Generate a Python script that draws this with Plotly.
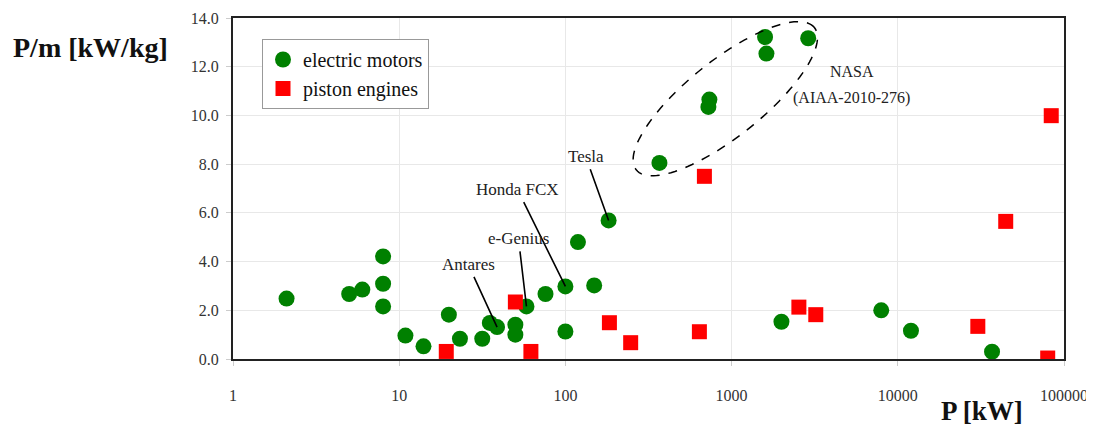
import math
import plotly.graph_objects as go

# ---------------- data ----------------
em_power = [2.1, 5.0, 6.0, 8.0, 8.0, 8.0, 10.9, 14.0, 19.9, 23.2, 31.6, 35.1, 38.8, 50.0, 50.0,
            58.3, 75.9, 100.0, 100.0, 119.0, 149.0, 182.0, 368.0, 735.0, 725.0, 1590.0, 1620.0,
            2890.0, 1995.0, 7950.0, 12000.0, 36900.0]
em_ratio = [2.48, 2.67, 2.85, 4.21, 3.09, 2.16, 0.96, 0.52, 1.82, 0.83, 0.83, 1.48, 1.31, 1.41, 1.00,
            2.16, 2.67, 2.98, 1.13, 4.80, 3.02, 5.69, 8.05, 10.65, 10.35, 13.22, 12.54,
            13.17, 1.53, 2.00, 1.16, 0.30]

pe_power = [50.0, 19.2, 62.0, 184.0, 247.0, 686.0, 640.0, 2540.0, 3210.0, 30300.0, 44600.0, 83800.0, 79800.0]
pe_ratio = [2.34, 0.31, 0.31, 1.49, 0.67, 7.50, 1.12, 2.13, 1.82, 1.34, 5.65, 9.99, 0.04]

x_ticks = [1, 10, 100, 1000, 10000, 100000]
x_ticktext = ["1", "10", "100", "1000", "10000", "100000"]
y_ticks = [0, 2, 4, 6, 8, 10, 12, 14]

# labelled points: (label, power, ratio, text offset x px, text offset y px)
labels = [
    ("Tesla", 182.0, 5.69, -23, -64),
    ("Honda FCX", 100.0, 2.98, -48, -97),
    ("e-Genius", 58.3, 2.16, -8, -68),
    ("Antares", 38.8, 1.31, -29, -63),
]

FONT = "Liberation Serif"
# the page body has an 8px margin; the figure is sized so the plot area lands in place
W, H = 1086, 419
ML, MT = 225, 10
PW, PH = 831, 341
MR, MB = W - ML - PW, H - MT - PH
X0 = ML + 8  # plot left edge in the page
XR = [0, 5]
YR = [0, 14]

fig = go.Figure()
fig.add_trace(go.Scatter(x=em_power, y=em_ratio, mode="markers", name="electric motors",
                         marker=dict(symbol="circle", size=16, color="#008000")))
fig.add_trace(go.Scatter(x=pe_power, y=pe_ratio, mode="markers", name="piston engines",
                         marker=dict(symbol="square", size=15, color="#ff0000")))

# dashed ellipse around NASA motors (center in paper fraction, axes in pixels)
cxp, cyp = (725.3 - X0) / PW, (359 - 98.7) / PH
a_px, b_px, theta = 114, 38, math.radians(38.6)
pts = []
for i in range(121):
    t = 2 * math.pi * i / 120
    dx = a_px * math.cos(t) * math.cos(theta) - b_px * math.sin(t) * math.sin(theta)
    dy = a_px * math.cos(t) * math.sin(theta) + b_px * math.sin(t) * math.cos(theta)
    pts.append((cxp + dx / PW, cyp + dy / PH))
path = "M " + " L ".join(f"{x:.5f},{y:.5f}" for x, y in pts) + " Z"
fig.add_shape(type="path", path=path, xref="paper", yref="paper",
              line=dict(color="black", width=1.5, dash="dash"))

for name, p, r, ax, ay in labels:
    fig.add_annotation(x=math.log10(p), y=r, xref="x", yref="y", text=name,
                       showarrow=True, arrowhead=0, arrowwidth=1.6, arrowcolor="black",
                       ax=ax, ay=ay, standoff=0, startstandoff=2,
                       font=dict(family=FONT, size=17, color="#222"))

fig.add_annotation(x=math.log10(5300), y=11.8, xref="x", yref="y", text="NASA", showarrow=False,
                   font=dict(family=FONT, size=16, color="#222"))
fig.add_annotation(x=math.log10(5300), y=10.7, xref="x", yref="y", text="(AIAA-2010-276)",
                   showarrow=False, font=dict(family=FONT, size=16, color="#222"))

fig.add_annotation(x=(90 - X0) / PW, y=(359 - 47) / PH, xref="paper", yref="paper",
                   text="<b>P/m [kW/kg]</b>", xanchor="center", yanchor="middle",
                   showarrow=False, font=dict(family=FONT, size=28, color="#111"))
fig.add_annotation(x=(982 - X0) / PW, y=(359 - 411) / PH, xref="paper", yref="paper",
                   text="<b>P [kW]</b>", xanchor="center", yanchor="middle",
                   showarrow=False, font=dict(family=FONT, size=27, color="#111"))

fig.update_layout(
    width=W, height=H,
    margin=dict(l=ML, r=MR, t=MT, b=MB, autoexpand=False),
    plot_bgcolor="white", paper_bgcolor="white",
    font=dict(family=FONT, size=15, color="#333"),
    legend=dict(x=(262 - X0) / PW, y=(359 - 39) / PH, xanchor="left", yanchor="top",
                bordercolor="#999", borderwidth=1, bgcolor="white",
                font=dict(family=FONT, size=20, color="#111"),
                itemwidth=30),
    xaxis=dict(type="log", range=XR, tickvals=x_ticks, ticktext=x_ticktext,
               automargin=False,
               showgrid=True, gridcolor="#e8e8e8", gridwidth=1,
               showline=True, linecolor="#222", linewidth=2, mirror=True,
               ticks="outside", ticklen=5, tickcolor="#ccc", ticklabelstandoff=16,
               tickfont=dict(family=FONT, size=16, color="#333"),
               zeroline=False),
    yaxis=dict(range=YR, tickvals=y_ticks, tickformat=".1f",
               automargin=False,
               showgrid=True, gridcolor="#e8e8e8", gridwidth=1,
               showline=True, linecolor="#222", linewidth=2, mirror=True,
               ticks="outside", ticklen=5, tickcolor="#ccc", ticklabelstandoff=4,
               tickfont=dict(family=FONT, size=16, color="#333"),
               zeroline=False),
)

fig.write_html("out.html")
